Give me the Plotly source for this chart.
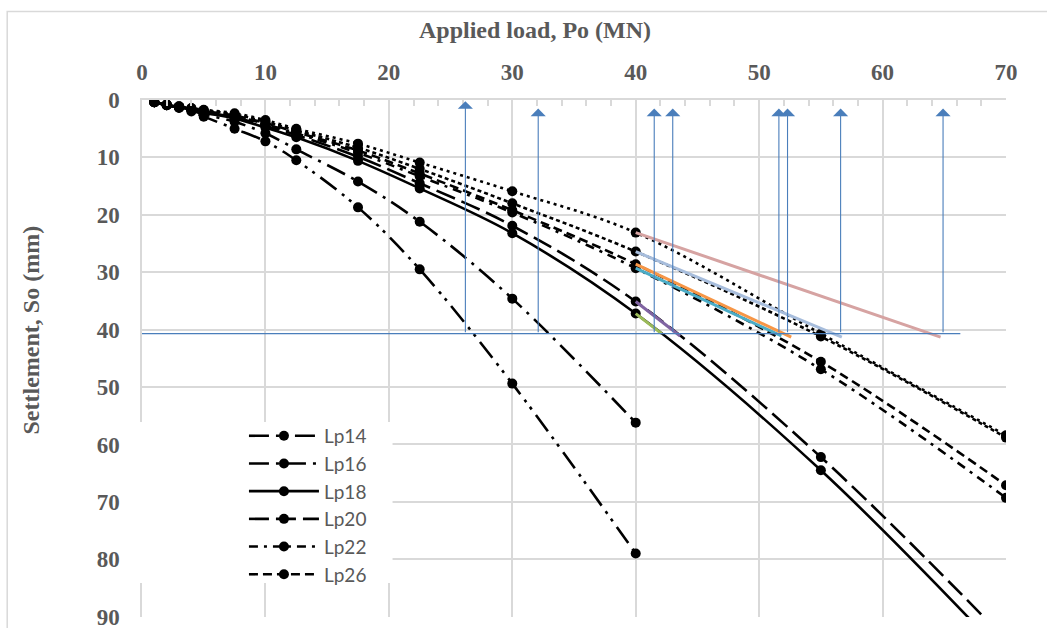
import plotly.graph_objects as go

# Applied load steps (MN)
load = [1, 2, 3, 4, 5, 7.5, 10, 12.5, 17.5, 22.5, 30, 40, 55, 70]

# Measured settlement (mm) for each pile length
lp14 = [0.4, 0.9, 1.4, 2.0, 2.9, 5.0, 7.2, 10.5, 18.7, 29.5, 49.4, 79.0]
lp16 = [0.4, 0.9, 1.3, 1.8, 2.5, 3.8, 5.8, 8.6, 14.2, 21.2, 34.6, 56.2]
lp18 = [0.4, 0.9, 1.3, 1.7, 2.2, 3.2, 4.8, 6.5, 10.6, 15.4, 23.2, 37.2, 64.5, 97.0]
lp20 = [0.4, 0.9, 1.2, 1.6, 2.1, 3.0, 4.5, 6.1, 9.9, 14.5, 21.9, 35.1, 62.2, 94.0]
lp22 = [0.4, 0.8, 1.2, 1.6, 2.0, 2.8, 4.2, 5.8, 9.2, 13.3, 19.6, 29.3, 46.9, 69.3]
lp26 = [0.4, 0.8, 1.2, 1.5, 1.9, 2.7, 4.0, 5.6, 8.8, 12.8, 19.2, 28.6, 45.6, 67.1]
lp28 = [0.4, 0.8, 1.1, 1.5, 1.8, 2.5, 3.8, 5.3, 8.3, 12.0, 18.0, 26.4, 41.2, 58.8]
lp30 = [0.4, 0.8, 1.1, 1.4, 1.7, 2.3, 3.5, 5.0, 7.6, 10.9, 15.9, 23.1, 40.7, 58.4]

series_names = ["Lp14", "Lp16", "Lp18", "Lp20", "Lp22", "Lp26", "Lp28", "Lp30"]
series_values = [lp14, lp16, lp18, lp20, lp22, lp26, lp28, lp30]
series_in_legend = [True, True, True, True, True, True, False, False]

# Settlement limit and the load where each curve reaches it
limit_settlement = 40.7
limit_line_load = [0, 66.3]
limit_load = [26.2, 32.1, 41.5, 43.0, 51.6, 52.3, 56.6, 64.9]
arrow_tip = [0.2, 1.5, 1.5, 1.5, 1.5, 1.5, 1.5, 1.5]

# Straight extrapolation from the 40 MN point of the longer piles
extrap_start_load = [40, 40, 40, 40, 40, 40]
extrap_start_settle = [37.2, 35.1, 29.3, 28.6, 26.4, 23.1]
extrap_end_load = [42.1, 43.6, 51.8, 52.6, 56.7, 64.7]
extrap_end_settle = [40.7, 41.1, 41.1, 41.3, 41.3, 41.3]
extrap_colors = ["#9bbb59", "#8064a2", "#4bacc6", "#f79646", "#a7bddc", "#d6a3a2"]

# Settlement axis ticks
settle_ticks = [0, 10, 20, 30, 40, 50, 60, 70, 80, 90]

dash_styles = [
    "20px,7px,3px,6px,3px,7px",  # long dash dot dot
    "20px,7px,3px,7px",          # long dash dot
    "solid",
    "20px,7px",                  # long dash
    "9px,6px,3px,6px",           # dash dot
    "9px,5px",                   # dash
    "4px,3px",                   # square dot
    "3px,4px",                   # round dot
]

GRID = "#d9d9d9"
TXT = "#595959"

fig = go.Figure()

for name, vals, dash, show in zip(series_names, series_values, dash_styles, series_in_legend):
    fig.add_trace(go.Scatter(
        x=load[:len(vals)], y=vals, name=name, showlegend=show,
        mode="lines+markers",
        line=dict(color="black", width=2.6, dash=dash, shape="spline"),
        marker=dict(color="black", size=10),
    ))

for x0, y0, x1, y1, c in zip(extrap_start_load, extrap_start_settle,
                             extrap_end_load, extrap_end_settle, extrap_colors):
    fig.add_trace(go.Scatter(
        x=[x0, x1], y=[y0, y1], mode="lines", showlegend=False,
        line=dict(color=c, width=3),
    ))

fig.add_trace(go.Scatter(
    x=limit_line_load, y=[limit_settlement] * len(limit_line_load),
    mode="lines", showlegend=False, line=dict(color="#4a7ebb", width=1.2),
))

for xa, ya in zip(limit_load, arrow_tip):
    fig.add_annotation(
        x=xa, y=ya, ax=xa, ay=limit_settlement, xref="x", yref="y",
        axref="x", ayref="y", text="", showarrow=True,
        arrowhead=1, arrowsize=2.3, arrowwidth=1.1, arrowcolor="#4a7ebb",
        standoff=0, startstandoff=0,
    )

# Axis titles
fig.add_annotation(
    text="<b>Applied load, Po (MN)</b>", xref="paper", yref="paper",
    x=0.455, y=1.135, showarrow=False, xanchor="center", yanchor="middle",
    font=dict(family="Liberation Serif", size=24, color=TXT),
)
fig.add_annotation(
    text="<b>Settlement, So (mm)</b>", xref="paper", yref="paper",
    x=-0.128, y=0.555, showarrow=False, textangle=-90,
    xanchor="center", yanchor="middle",
    font=dict(family="Liberation Serif", size=24, color=TXT),
)

# Chart frame and legend backdrop
fig.add_shape(type="rect", xref="paper", yref="paper",
              x0=-0.156, x1=1.06, y0=-0.2, y1=1.171,
              line=dict(color=GRID, width=1.5), fillcolor="rgba(0,0,0,0)", layer="below")
fig.add_shape(type="rect", xref="paper", yref="paper",
              x0=-0.006, x1=0.29, y0=0.066, y1=0.377,
              line=dict(width=0), fillcolor="white", layer="above")

fig.update_xaxes(
    range=[0, 70], side="top", dtick=10, showgrid=True, gridcolor=GRID, gridwidth=1.5,
    showline=True, linecolor=GRID, linewidth=1.5, zeroline=False, ticks="",
    ticklabelstandoff=9, automargin=False,
    tickfont=dict(family="Liberation Serif", size=23, color=TXT, weight="bold"),
    minor=dict(dtick=2, ticks="inside", ticklen=6, tickcolor=GRID, tickwidth=1.5, showgrid=False),
)
fig.update_yaxes(
    range=[90.05, 0], tickmode="array", tickvals=settle_ticks,
    showgrid=True, gridcolor=GRID, gridwidth=1.5,
    showline=True, linecolor=GRID, linewidth=1.5, zeroline=False, ticks="",
    ticklabelstandoff=16, ticklabeloverflow="allow", automargin=False,
    tickfont=dict(family="Liberation Serif", size=23, color=TXT, weight="bold"),
)

fig.update_layout(
    width=1047, height=628,
    margin=dict(l=142, r=41, t=100, b=11),
    paper_bgcolor="white", plot_bgcolor="white",
    legend=dict(
        x=0.118, y=0.387, xanchor="left", yanchor="top",
        bgcolor="rgba(0,0,0,0)", borderwidth=0, itemwidth=70,
        font=dict(family="Lato", size=19, color=TXT),
        tracegroupgap=0,
    ),
)

fig.write_html("out.html")
